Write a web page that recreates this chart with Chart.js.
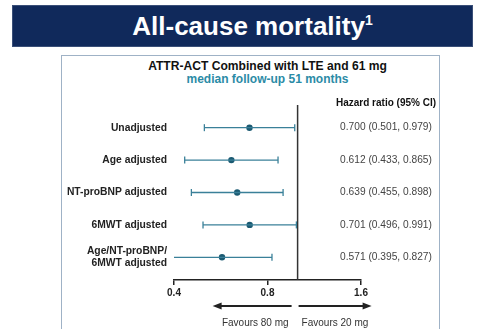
<!DOCTYPE html>
<html>
<head>
<meta charset="utf-8">
<script src="https://cdn.jsdelivr.net/npm/chart.js@4/dist/chart.umd.min.js"></script>
<style>
  html, body { margin: 0; padding: 0; background: #fff; width: 485px; height: 329px; overflow: hidden; font-family: 'Liberation Sans', Arial, sans-serif; }
  .banner { position: absolute; left: 12px; top: 5px; width: 461px; height: 42px; background: #10295b; border: 1px solid #3a4f78; box-sizing: border-box;
    color: #fff; font-weight: bold; font-size: 26px; text-align: center; line-height: 40px; padding-left: 20px; }
  .banner sup { font-size: 14px; vertical-align: 10px; line-height: 0; }
  .box { position: absolute; left: 61px; top: 55px; width: 379px; height: 290px; border: 1.5px solid #9fb2c6; box-sizing: border-box; }
  .t1 { position: absolute; left: 34px; right: 0; top: 3px; text-align: center; font-weight: bold; font-size: 12.1px; line-height: 14px; color: #111; }
  .t2 { position: absolute; left: 34px; right: 0; top: 16px; text-align: center; font-weight: bold; font-size: 12px; line-height: 14px; color: #2b8ba6; }
  #chartWrap { position: absolute; left: 1px; top: 0; width: 375px; height: 274px; }
</style>
</head>
<body>
<div class="banner">All-cause mortality<sup>1</sup></div>
<div class="box">
  <div class="t1">ATTR-ACT Combined with LTE and 61 mg</div>
  <div class="t2">median follow-up 51 months</div>
  <div id="chartWrap"><canvas id="forest"></canvas></div>
</div>
<script>
const rowLabels = ['Unadjusted', 'Age adjusted', 'NT-proBNP adjusted', '6MWT adjusted', ['Age/NT-proBNP/', '6MWT adjusted']];
const hazardRatio = [0.700, 0.612, 0.639, 0.701, 0.571];
const ciLow = [0.501, 0.433, 0.455, 0.496, 0.395];
const ciHigh = [0.979, 0.865, 0.898, 0.991, 0.827];
const xTicks = [0.4, 0.8, 1.6];
const refValue = 1.0;

const lineColor = '#3a8099';
const dotColor = '#1b5a72';
const inkColor = '#222';
const fontFamily = "'Liberation Sans', Arial, sans-serif";

const ciSets = rowLabels.map((_, i) => ({
  type: 'line',
  data: [{ x: ciLow[i], y: i }, { x: ciHigh[i], y: i }],
  borderColor: lineColor,
  borderWidth: 1.3,
  pointStyle: 'line',
  rotation: 90,
  pointRadius: 3.5,
  pointBorderColor: lineColor,
  pointBorderWidth: 1.3,
  pointHoverRadius: 0,
}));

const forestExtras = {
  id: 'forestExtras',
  beforeDatasetsDraw(chart) {
    const { ctx, chartArea, scales: { x } } = chart;
    const px = x.getPixelForValue(refValue);
    ctx.save();
    ctx.strokeStyle = '#333';
    ctx.lineWidth = 1.5;
    ctx.beginPath();
    ctx.moveTo(px, chartArea.top);
    ctx.lineTo(px, chartArea.bottom);
    ctx.stroke();
    ctx.restore();
  },
  afterDraw(chart) {
    const { ctx, chartArea, scales: { x, y } } = chart;
    const colX = 323;
    ctx.save();
    ctx.textAlign = 'center';
    ctx.textBaseline = 'middle';
    ctx.fillStyle = '#111';
    ctx.font = `bold 10px ${fontFamily}`;
    ctx.fillText('Hazard ratio (95% CI)', colX, chartArea.top - 2);
    ctx.fillStyle = '#444';
    ctx.font = `10.2px ${fontFamily}`;
    hazardRatio.forEach((v, i) => {
      const txt = `${v.toFixed(3)} (${ciLow[i].toFixed(3)}, ${ciHigh[i].toFixed(3)})`;
      ctx.fillText(txt, colX, y.getPixelForValue(i));
    });

    // favours arrows
    const px = x.getPixelForValue(refValue);
    const ay = chartArea.bottom + 26;
    ctx.strokeStyle = inkColor;
    ctx.fillStyle = inkColor;
    ctx.lineWidth = 2;
    const arrow = (from, to) => {
      const dir = Math.sign(to - from);
      ctx.beginPath();
      ctx.moveTo(from, ay);
      ctx.lineTo(to - dir * 7, ay);
      ctx.stroke();
      ctx.beginPath();
      ctx.moveTo(to, ay);
      ctx.lineTo(to - dir * 9, ay - 3.5);
      ctx.lineTo(to - dir * 9, ay + 3.5);
      ctx.closePath();
      ctx.fill();
    };
    arrow(px - 6, px - 85);
    arrow(px + 1, px + 74);
    ctx.fillStyle = '#333';
    ctx.font = `10px ${fontFamily}`;
    ctx.textAlign = 'right';
    ctx.fillText('Favours 80 mg', px - 9, ay + 17);
    ctx.textAlign = 'left';
    ctx.fillText('Favours 20 mg', px + 4, ay + 17);
    ctx.restore();
  }
};

new Chart(document.getElementById('forest'), {
  type: 'scatter',
  data: {
    datasets: [
      ...ciSets,
      {
        type: 'scatter',
        data: hazardRatio.map((v, i) => ({ x: v, y: i })),
        pointStyle: 'circle',
        pointRadius: 3.2,
        pointBackgroundColor: dotColor,
        pointBorderColor: dotColor,
        pointBorderWidth: 0,
        pointHoverRadius: 3.2,
      },
    ],
  },
  options: {
    responsive: true,
    maintainAspectRatio: false,
    animation: false,
    events: [],
    layout: { padding: { top: 49, left: 0, right: 77, bottom: 0 } },
    plugins: { legend: { display: false }, tooltip: { enabled: false } },
    scales: {
      x: {
        type: 'logarithmic',
        min: 0.4,
        max: 1.6,
        afterBuildTicks: (scale) => { scale.ticks = xTicks.map((value) => ({ value })); },
        afterFit: (scale) => { scale.height = 50; },
        ticks: {
          color: inkColor,
          padding: 2,
          font: { family: fontFamily, size: 10, weight: 'bold' },
          callback: (v) => Number(v).toFixed(1),
          maxRotation: 0,
        },
        grid: { drawOnChartArea: false, drawTicks: true, tickLength: 5, color: inkColor, lineWidth: 1.5 },
        border: { display: true, color: inkColor, width: 1.5 },
      },
      y: {
        type: 'linear',
        reverse: true,
        min: -0.7,
        max: 4.7,
        afterBuildTicks: (scale) => { scale.ticks = rowLabels.map((_, i) => ({ value: i })); },
        afterFit: (scale) => { scale.width = 111; },
        ticks: {
          color: '#222',
          padding: 7,
          font: { family: fontFamily, size: 10.3, weight: 'bold', lineHeight: 1.17 },
          callback: (v) => rowLabels[v],
        },
        grid: { display: false, drawTicks: false },
        border: { display: false },
      },
    },
  },
  plugins: [forestExtras],
});
</script>
</body>
</html>
